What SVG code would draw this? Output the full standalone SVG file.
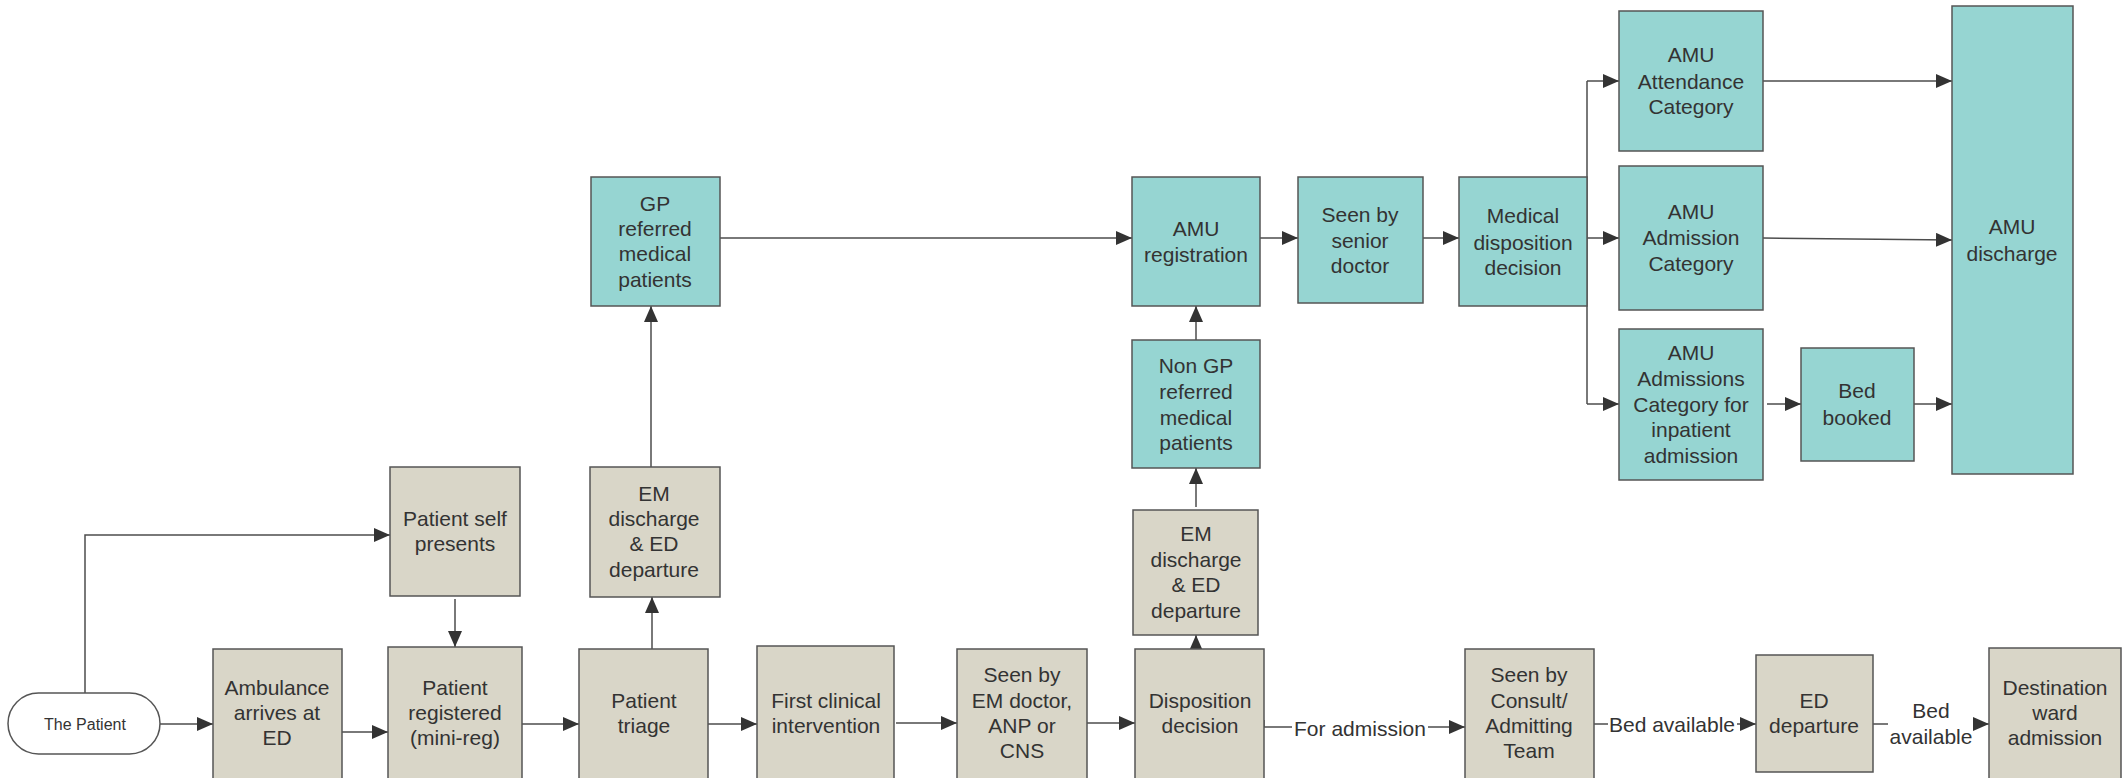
<svg xmlns="http://www.w3.org/2000/svg" width="2127" height="778" viewBox="0 0 2127 778">
<style>
.g{fill:#d9d6c8;stroke:#555;stroke-width:1.5}
.t{fill:#96d5d2;stroke:#555;stroke-width:1.5}
.tx{font-family:"Liberation Sans",Arial,sans-serif;font-size:21px;fill:#333;text-anchor:middle;dominant-baseline:central}
.c{fill:none;stroke:#4d4d4d;stroke-width:1.5}
.a{marker-end:url(#ah)}
.lb{font-family:"Liberation Sans",Arial,sans-serif;font-size:21px;fill:#333;text-anchor:middle;dominant-baseline:central}
</style>
<defs>
<marker id="ah" markerUnits="userSpaceOnUse" markerWidth="16" markerHeight="14" refX="16" refY="7" orient="auto">
<path d="M0,0 L16,7 L0,14 z" fill="#333"/>
</marker>
</defs>
<rect width="2127" height="778" fill="#fff"/>
<g id="connectors">
<path class="c a" d="M160,724 H213"/>
<path class="c a" d="M85,693 V535 H390"/>
<path class="c a" d="M455,599 V647"/>
<path class="c a" d="M342,732 H388"/>
<path class="c a" d="M522,724 H579"/>
<path class="c a" d="M652,649 V597"/>
<path class="c a" d="M651,467 V306"/>
<path class="c a" d="M720,238 H1132"/>
<path class="c a" d="M708,724 H757"/>
<path class="c a" d="M896,723 H957"/>
<path class="c a" d="M1087,723 H1135"/>
<path class="c a" d="M1196,666 V635"/>
<path class="c a" d="M1196,507 V468"/>
<path class="c a" d="M1196,340 V306"/>
<path class="c a" d="M1260,238 H1298"/>
<path class="c a" d="M1423,238 H1459"/>
<path class="c" d="M1587,81 V404"/>
<path class="c a" d="M1587,81 H1619"/>
<path class="c a" d="M1587,238 H1619"/>
<path class="c a" d="M1587,404 H1619"/>
<path class="c a" d="M1763,81 H1952"/>
<path class="c a" d="M1763,238 L1952,240"/>
<path class="c a" d="M1767,404 H1801"/>
<path class="c a" d="M1914,404 H1952"/>
<path class="c a" d="M1264,720 V727 H1465"/>
<rect x="1292" y="713" width="136" height="28" fill="#fff"/>
<text class="lb" x="1360" y="728">For admission</text>
<path class="c a" d="M1594,724 H1756"/>
<rect x="1608" y="710" width="129" height="28" fill="#fff"/>
<text class="lb" x="1672" y="724">Bed available</text>
<path class="c a" d="M1873,724 H1989"/>
<rect x="1888" y="696" width="85" height="54" fill="#fff"/>
<text class="lb" x="1931" y="710">Bed</text>
<text class="lb" x="1931" y="736">available</text>
</g>
<g id="the-patient"><rect x="8" y="693" width="152" height="61" rx="30.5" fill="#fff" stroke="#555" stroke-width="1.5"/><text class="tx" x="85" y="724" style="font-size:16px">The Patient</text></g>
<g id="self-presents"><rect class="g" x="390" y="467" width="130" height="129"/><text class="tx" x="455"><tspan x="455" y="518">Patient self</tspan><tspan x="455" y="543">presents</tspan></text></g>
<g id="registered"><rect class="g" x="388" y="647" width="134" height="135"/><text class="tx"><tspan x="455" y="687">Patient</tspan><tspan x="455" y="712">registered</tspan><tspan x="455" y="737">(mini-reg)</tspan></text></g>
<g id="ambulance"><rect class="g" x="213" y="649" width="129" height="133"/><text class="tx"><tspan x="277" y="687">Ambulance</tspan><tspan x="277" y="712">arrives at</tspan><tspan x="277" y="737">ED</tspan></text></g>
<g id="triage"><rect class="g" x="579" y="649" width="129" height="133"/><text class="tx"><tspan x="644" y="700">Patient</tspan><tspan x="644" y="725">triage</tspan></text></g>
<g id="first-clinical"><rect class="g" x="757" y="646" width="137" height="136"/><text class="tx"><tspan x="826" y="700">First clinical</tspan><tspan x="826" y="725">intervention</tspan></text></g>
<g id="seen-em"><rect class="g" x="957" y="649" width="130" height="133"/><text class="tx"><tspan x="1022" y="674">Seen by</tspan><tspan x="1022" y="700">EM doctor,</tspan><tspan x="1022" y="725">ANP or</tspan><tspan x="1022" y="750">CNS</tspan></text></g>
<g id="disposition"><rect class="g" x="1135" y="649" width="129" height="133"/><text class="tx"><tspan x="1200" y="700">Disposition</tspan><tspan x="1200" y="725">decision</tspan></text></g>
<g id="em-discharge-1"><rect class="g" x="590" y="467" width="130" height="130"/><text class="tx"><tspan x="654" y="493">EM</tspan><tspan x="654" y="518">discharge</tspan><tspan x="654" y="543">&amp; ED</tspan><tspan x="654" y="569">departure</tspan></text></g>
<g id="gp-referred"><rect class="t" x="591" y="177" width="129" height="129"/><text class="tx"><tspan x="655" y="203">GP</tspan><tspan x="655" y="228">referred</tspan><tspan x="655" y="253">medical</tspan><tspan x="655" y="279">patients</tspan></text></g>
<g id="em-discharge-2"><rect class="g" x="1133" y="510" width="125" height="125"/><text class="tx"><tspan x="1196" y="533">EM</tspan><tspan x="1196" y="559">discharge</tspan><tspan x="1196" y="584">&amp; ED</tspan><tspan x="1196" y="610">departure</tspan></text></g>
<g id="non-gp"><rect class="t" x="1132" y="340" width="128" height="128"/><text class="tx"><tspan x="1196" y="365">Non GP</tspan><tspan x="1196" y="391">referred</tspan><tspan x="1196" y="417">medical</tspan><tspan x="1196" y="442">patients</tspan></text></g>
<g id="amu-registration"><rect class="t" x="1132" y="177" width="128" height="129"/><text class="tx"><tspan x="1196" y="228">AMU</tspan><tspan x="1196" y="254">registration</tspan></text></g>
<g id="senior-doctor"><rect class="t" x="1298" y="177" width="125" height="126"/><text class="tx"><tspan x="1360" y="214">Seen by</tspan><tspan x="1360" y="240">senior</tspan><tspan x="1360" y="265">doctor</tspan></text></g>
<g id="medical-disposition"><rect class="t" x="1459" y="177" width="128" height="129"/><text class="tx"><tspan x="1523" y="215">Medical</tspan><tspan x="1523" y="242">disposition</tspan><tspan x="1523" y="267">decision</tspan></text></g>
<g id="amu-attendance"><rect class="t" x="1619" y="11" width="144" height="140"/><text class="tx"><tspan x="1691" y="54">AMU</tspan><tspan x="1691" y="81">Attendance</tspan><tspan x="1691" y="106">Category</tspan></text></g>
<g id="amu-admission"><rect class="t" x="1619" y="166" width="144" height="144"/><text class="tx"><tspan x="1691" y="211">AMU</tspan><tspan x="1691" y="237">Admission</tspan><tspan x="1691" y="263">Category</tspan></text></g>
<g id="amu-inpatient"><rect class="t" x="1619" y="329" width="144" height="151"/><text class="tx"><tspan x="1691" y="352">AMU</tspan><tspan x="1691" y="378">Admissions</tspan><tspan x="1691" y="404">Category for</tspan><tspan x="1691" y="429">inpatient</tspan><tspan x="1691" y="455">admission</tspan></text></g>
<g id="bed-booked"><rect class="t" x="1801" y="348" width="113" height="113"/><text class="tx"><tspan x="1857" y="390">Bed</tspan><tspan x="1857" y="417">booked</tspan></text></g>
<g id="amu-discharge"><rect class="t" x="1952" y="6" width="121" height="468"/><text class="tx"><tspan x="2012" y="226">AMU</tspan><tspan x="2012" y="253">discharge</tspan></text></g>
<g id="consult"><rect class="g" x="1465" y="649" width="129" height="133"/><text class="tx"><tspan x="1529" y="674">Seen by</tspan><tspan x="1529" y="700">Consult/</tspan><tspan x="1529" y="725">Admitting</tspan><tspan x="1529" y="750">Team</tspan></text></g>
<g id="ed-departure"><rect class="g" x="1756" y="655" width="117" height="117"/><text class="tx"><tspan x="1814" y="700">ED</tspan><tspan x="1814" y="725">departure</tspan></text></g>
<g id="destination"><rect class="g" x="1989" y="648" width="132" height="134"/><text class="tx"><tspan x="2055" y="687">Destination</tspan><tspan x="2055" y="712">ward</tspan><tspan x="2055" y="737">admission</tspan></text></g>
</svg>
